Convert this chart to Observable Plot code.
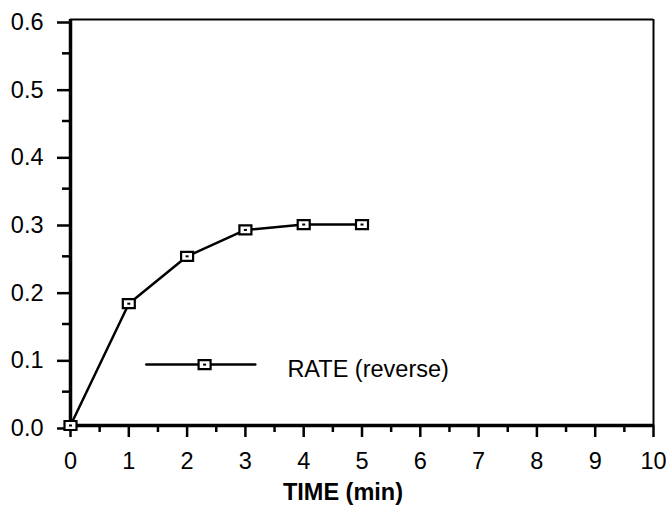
<!DOCTYPE html>
<html>
<head>
<meta charset="utf-8">
<script src="https://cdn.jsdelivr.net/npm/d3@7"></script>
<script src="https://cdn.jsdelivr.net/npm/@observablehq/plot@0.6"></script>
<style>
  html, body { margin: 0; padding: 0; background: #fff; }
  #chart svg { display: block; }
</style>
</head>
<body>
<div id="chart"></div>
<script>
// Data
const time = [0, 1, 2, 3, 4, 5];
const rate = [0, 0.18, 0.25, 0.289, 0.297, 0.297];
const xTicks = [0, 1, 2, 3, 4, 5, 6, 7, 8, 9, 10];
const xMinorTicks = [0.5, 1.5, 2.5, 3.5, 4.5, 5.5, 6.5, 7.5, 8.5, 9.5];
const yTicks = [0, 0.1, 0.2, 0.3, 0.4, 0.5, 0.6];
const yMinorTicks = [0.05, 0.15, 0.25, 0.35, 0.45, 0.55];
const seriesName = "RATE (reverse)";
const xLabel = "TIME (min)";

const data = time.map((t, i) => ({t, r: rate[i]}));

// legend layout (in data units)
const legendLine = [{t: 1.3, r: 0.09}, {t: 3.17, r: 0.09}];
const legendMarker = [{t: 2.3, r: 0.09}];
const legendText = [{t: 3.72, r: 0.09}];

const font = "'Liberation Sans', Arial, Helvetica, sans-serif";
const FS = 23.5;

const boxSymbol = {draw(ctx) { ctx.rect(-6, -4.5, 12, 9); }};
const pipSymbol = {draw(ctx) { ctx.rect(-1.5, -1, 3, 2); }};

const chart = Plot.plot({
  width: 666,
  height: 512,
  marginLeft: 70,
  marginRight: 13,
  marginTop: 19,
  marginBottom: 87,
  style: {fontFamily: font, fontSize: FS + "px", color: "#000", background: "#fff"},
  x: {domain: [0, 10]},
  y: {domain: [0, 0.6]},
  marks: [
    // minor ticks
    Plot.axisX({ticks: xMinorTicks, tickSize: 7, text: null, strokeWidth: 2.5, label: null}),
    Plot.axisY({ticks: yMinorTicks, tickSize: 8, text: null, strokeWidth: 2.5, label: null}),
    // major ticks
    Plot.axisX({ticks: xTicks, tickSize: 12, tickPadding: 15, tickFormat: d3.format("d"),
      strokeWidth: 2.5, fontSize: FS, label: null}),
    Plot.axisY({ticks: yTicks, tickSize: 13, tickPadding: 14, tickFormat: d3.format(".1f"),
      strokeWidth: 2.5, fontSize: FS, label: null, dy: 3}),
    // frame
    Plot.ruleY([0.6], {strokeWidth: 2}),
    Plot.ruleX([10], {strokeWidth: 2}),
    Plot.ruleY([0], {strokeWidth: 3.5}),
    Plot.ruleX([0], {strokeWidth: 3.5}),
    // series
    Plot.line(data, {x: "t", y: "r", stroke: "#000", strokeWidth: 2.5}),
    Plot.dot(data, {x: "t", y: "r", symbol: boxSymbol, fill: "#fff", stroke: "#000", strokeWidth: 2.2}),
    Plot.dot(data, {x: "t", y: "r", symbol: pipSymbol, fill: "#000", stroke: "none"}),
    // legend
    Plot.line(legendLine, {x: "t", y: "r", stroke: "#000", strokeWidth: 2.5}),
    Plot.dot(legendMarker, {x: "t", y: "r", symbol: boxSymbol, fill: "#fff", stroke: "#000", strokeWidth: 2.2}),
    Plot.dot(legendMarker, {x: "t", y: "r", symbol: pipSymbol, fill: "#000", stroke: "none"}),
    Plot.text(legendText, {x: "t", y: "r", text: () => seriesName, textAnchor: "start", fontSize: FS, fill: "#000", dy: 5}),
    // axis title
    Plot.text([xLabel], {frameAnchor: "bottom", text: d => d, dy: 74, dx: -19, fontSize: FS, fontWeight: "bold", fill: "#000"})
  ]
});
document.getElementById("chart").appendChild(chart);
</script>
</body>
</html>
